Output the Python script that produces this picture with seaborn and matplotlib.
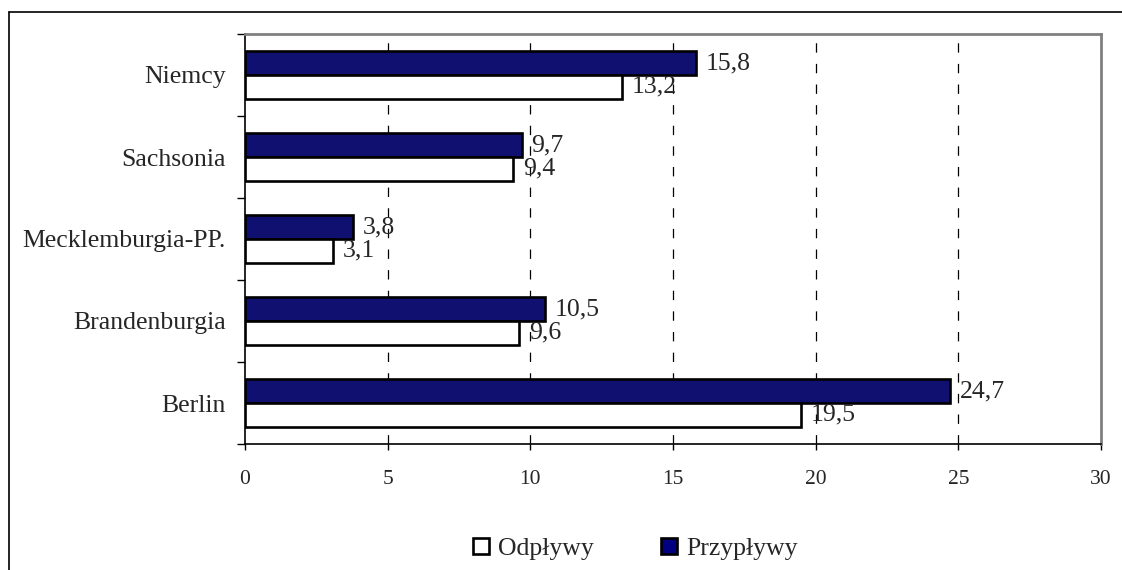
import matplotlib
matplotlib.use("Agg")
import matplotlib.pyplot as plt
from matplotlib.lines import Line2D
from matplotlib.patches import Patch
import seaborn as sns
import pandas as pd

categories = ["Niemcy", "Sachsonia", "Mecklemburgia-PP.", "Brandenburgia", "Berlin"]
przyplywy = [15.8, 9.7, 3.8, 10.5, 24.7]
odplywy = [13.2, 9.4, 3.1, 9.6, 19.5]
series_names = ["Przypływy", "Odpływy"]
x_ticks = [0, 5, 10, 15, 20, 25, 30]

df = pd.DataFrame({
    "kraj": categories * 2,
    "seria": [series_names[0]] * len(categories) + [series_names[1]] * len(categories),
    "wartosc": przyplywy + odplywy,
})

sns.set_theme(style="white")
plt.rcParams["font.family"] = ["Liberation Serif", "DejaVu Serif"]

W, H = 1122, 570
fig = plt.figure(figsize=(W / 100, H / 100), dpi=100)
ax = fig.add_axes([245 / W, 1 - 444 / H, (1101 - 245) / W, (444 - 34) / H])

colors = {"Przypływy": "#000080", "Odpływy": "#ffffff"}
sns.barplot(data=df, y="kraj", x="wartosc", hue="seria", order=categories,
            hue_order=series_names, palette=colors, orient="h", width=0.575,
            edgecolor="black", linewidth=1.9, ax=ax, legend=False, zorder=3)

ax.set_xlim(x_ticks[0], x_ticks[-1])
ax.set_ylim(len(categories) - 0.5, -0.5)
ax.set_xticks(x_ticks)
ax.set_xticklabels([str(t) for t in x_ticks])
ax.set_xlabel("")
ax.set_ylabel("")

# category ticks at band boundaries, labels at centres
ax.set_yticks([i - 0.5 for i in range(len(categories) + 1)])
ax.set_yticklabels([])
ax.set_yticks(range(len(categories)), minor=True)
ax.set_yticklabels(categories, minor=True, fontsize=18.5)
ax.tick_params(axis="y", which="minor", length=0, pad=13.7)
ax.tick_params(axis="y", which="major", length=6, width=1, color="black", direction="out", left=True)
ax.tick_params(axis="x", length=4, width=1, color="black", direction="out", bottom=True,
               labelsize=15.5, pad=15)

# dashed gridlines
for t in x_ticks[1:-1]:
    ax.axvline(t, color="black", lw=0.9, linestyle=(0, (7.5, 9)), zorder=1)

for s in ["left", "bottom"]:
    ax.spines[s].set_color("black")
    ax.spines[s].set_linewidth(1.2)
for s in ["top", "right"]:
    ax.spines[s].set_color("#808080")
    ax.spines[s].set_linewidth(2)
ax.set_facecolor("white")

# value labels
for cont in ax.containers:
    labels = [f"{v:.1f}".replace(".", ",") for v in cont.datavalues]
    ax.bar_label(cont, labels=labels, padding=7, fontsize=18.5, zorder=4)

handles = [Patch(facecolor=colors["Odpływy"], edgecolor="black", linewidth=1.9, label="Odpływy"),
           Patch(facecolor=colors["Przypływy"], edgecolor="black", linewidth=1.9, label="Przypływy")]
fig.legend(handles=handles, loc="center", bbox_to_anchor=(635 / W, 1 - 549 / H), ncol=2,
           frameon=False, fontsize=18.5, handlelength=0.62, handleheight=0.62,
           handletextpad=0.35, columnspacing=2.63, borderpad=0)

# outer border (clipped at right and bottom)
fig.add_artist(Line2D([9 / W, 1.0], [1 - 12 / H, 1 - 12 / H], color="black", lw=1.2))
fig.add_artist(Line2D([9 / W, 9 / W], [0.0, 1 - 12 / H], color="black", lw=1.2))

fig.savefig("out.png", dpi=100, facecolor="white")
